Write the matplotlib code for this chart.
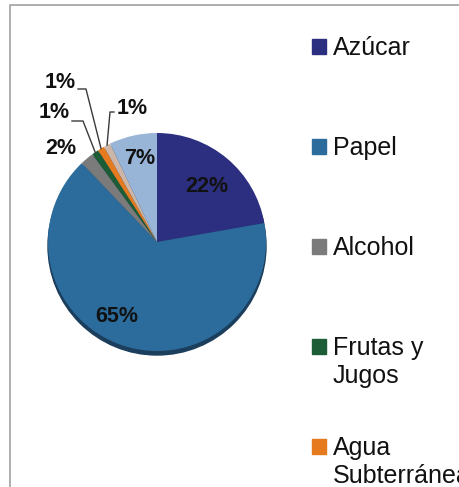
import numpy as np
import matplotlib.pyplot as plt
from matplotlib.patches import Circle, Rectangle

plt.rcParams['font.family'] = ['Liberation Sans', 'DejaVu Sans']

# datos
categorias = ['Azúcar', 'Papel', 'Alcohol', 'Frutas y\nJugos', 'Agua\nSubterránea', 'Otros', 'Otros 2']
valores = [22, 65, 2, 1, 1, 1, 7]
etiquetas = ['22%', '65%', '2%', '1%', '1%', '1%', '7%']
colores = ['#2c2f7f', '#2b6c9c', '#7b7b7b', '#1c5c36', '#e57a1e', '#cdb6a8', '#98b4d6']
n_leyenda = 5

W, H = 459, 487
fig = plt.figure(figsize=(W / 100, H / 100), dpi=100)
ax = fig.add_axes([0, 0, 1, 1])

def Y(y):
    # pixel (desde arriba) -> coordenada de datos
    return H - y

cx, cy, r = 157, Y(242), 109

# sombra inferior del pastel
ax.add_patch(Circle((cx, cy - 4), r, color='#1b3e5c', zorder=1))

wedges, _ = ax.pie(valores, colors=colores, startangle=90, counterclock=False,
                   center=(cx, cy), radius=r, wedgeprops=dict(linewidth=0), frame=True)
for w in wedges:
    w.set_zorder(2)

# etiquetas dentro / fuera
pos_etiquetas = {0: (207, 186), 1: (117, 316), 2: (61, 148), 6: (140, 158)}
for i, (px, py) in pos_etiquetas.items():
    ax.text(px, Y(py), etiquetas[i], ha='center', va='center', fontsize=15.5,
            fontweight='bold', color='#111111', zorder=5)

# etiquetas con lineas guia (1%)
guias = {3: ((54, 113), (72, 121), (83, 121)),
         4: ((60, 83), (78, 89), (86, 89)),
         5: ((132, 108), (114, 112), (110, 112))}
for i, (tpos, p0, codo) in guias.items():
    w = wedges[i]
    ang = np.deg2rad((w.theta1 + w.theta2) / 2)
    ex, ey = cx + r * np.cos(ang), cy + r * np.sin(ang)
    ax.plot([p0[0], codo[0], ex], [Y(p0[1]), Y(codo[1]), ey], color='#3a3a3a', lw=1, zorder=4)
    ax.text(tpos[0], Y(tpos[1]), etiquetas[i], ha='center', va='center', fontsize=15.5,
            fontweight='bold', color='#111111', zorder=5)

# leyenda manual (el texto largo queda cortado por el borde, como en el original)
for i in range(n_leyenda):
    base = 55 + 100 * i
    ax.add_patch(Rectangle((312, Y(base - 1)), 14, 15, color=colores[i], zorder=3))
    for k, linea in enumerate(categorias[i].split('\n')):
        ax.text(333, Y(base + 28 * k), linea, ha='left', va='baseline', fontsize=18,
                color='#111111', zorder=3)

# marco
ax.plot([10, 10, W + 5], [-5, Y(5), Y(5)], color='#a8a8a8', lw=1.3, zorder=0)

ax.set_xlim(0, W)
ax.set_ylim(0, H)
ax.set_aspect('auto')
ax.axis('off')

fig.savefig('out.png', dpi=100)
